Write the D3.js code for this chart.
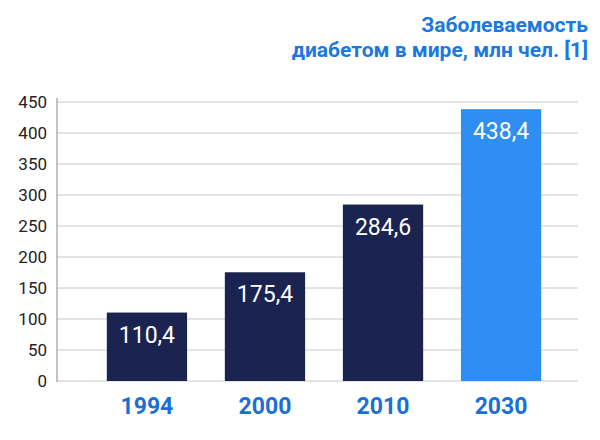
<!DOCTYPE html>
<html><head><meta charset="utf-8">
<script src="https://cdn.jsdelivr.net/npm/d3@7"></script>
<style>body{margin:0;background:#fff}</style>
</head><body>
<script>
const years = ['1994', '2000', '2010', '2030'];
const values = [110.4, 175.4, 284.6, 438.4];
const labels = ['110,4', '175,4', '284,6', '438,4'];
const yTicks = [0, 50, 100, 150, 200, 250, 300, 350, 400, 450];
const titleLines = ['Заболеваемость', 'диабетом в мире, млн чел. [1]'];

const W = 600, H = 440;
const svg = d3.select('body').append('svg').attr('width', W).attr('height', H)
    .style('font-family', 'Roboto, "Noto Sans", sans-serif');

const y = d3.scaleLinear().domain([0, 450]).range([381, 102]);
const x = d3.scaleBand().domain(years).range([95, 553]).paddingInner(0.32).paddingOuter(0.1);

svg.append('g').selectAll('line').data(yTicks).enter().append('line')
    .attr('x1', 57).attr('x2', 578)
    .attr('y1', d => y(d)).attr('y2', d => y(d))
    .attr('stroke', '#c8c8c8').attr('stroke-width', 1);
svg.append('line').attr('x1', 57).attr('x2', 57).attr('y1', 98).attr('y2', 382)
    .attr('stroke', '#888');

svg.append('g').selectAll('text').data(yTicks).enter().append('text')
    .attr('x', 47).attr('y', d => y(d) + 6).attr('text-anchor', 'end')
    .attr('font-size', 17).attr('fill', '#222').text(d => d);

svg.append('g').selectAll('rect').data(values).enter().append('rect')
    .attr('x', (d, i) => x(years[i])).attr('width', x.bandwidth())
    .attr('y', d => y(d)).attr('height', d => y(0) - y(d))
    .attr('fill', (d, i) => i == 3 ? '#2f8ef2' : '#1b2450');

svg.append('g').selectAll('text').data(values).enter().append('text')
    .attr('x', (d, i) => x(years[i]) + x.bandwidth() / 2).attr('y', d => y(d) + 30)
    .attr('text-anchor', 'middle').attr('font-size', 23).attr('fill', '#fff')
    .text((d, i) => labels[i]);

svg.append('g').selectAll('text').data(years).enter().append('text')
    .attr('x', d => x(d) + x.bandwidth() / 2).attr('y', 414)
    .attr('text-anchor', 'middle').attr('font-size', 23).attr('font-weight', 'bold')
    .attr('fill', '#1a6fd6').text(d => d);

svg.append('g').selectAll('text').data(titleLines).enter().append('text')
    .attr('x', 588).attr('y', (d, i) => 32 + i * 25).attr('text-anchor', 'end')
    .attr('font-size', 21).attr('font-weight', 'bold').attr('fill', '#1a78e0')
    .text(d => d);
</script>
</body></html>
